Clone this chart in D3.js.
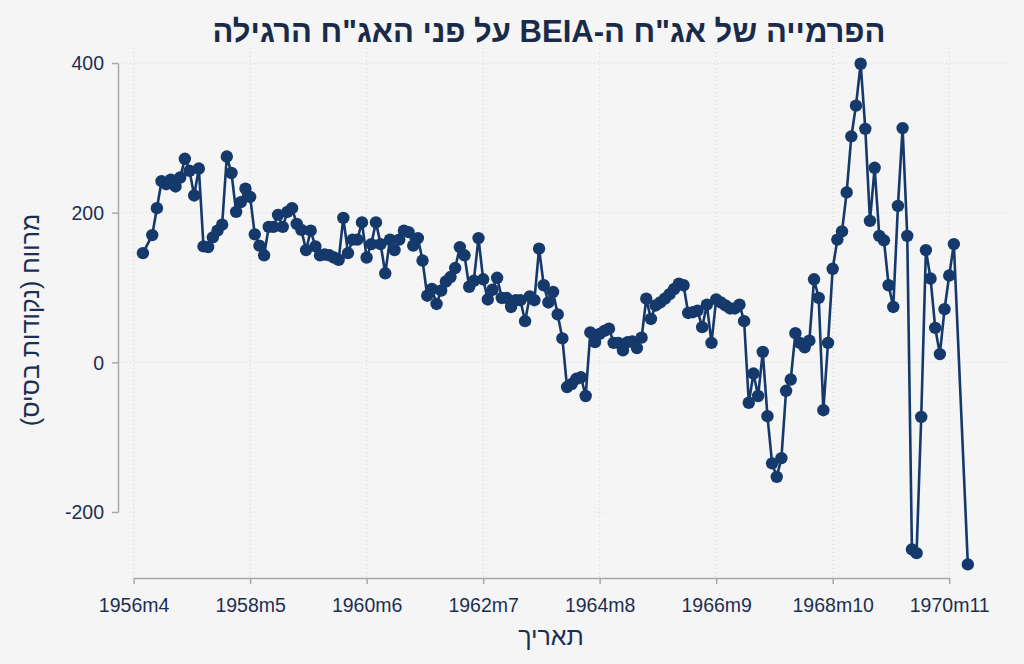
<!DOCTYPE html>
<html>
<head>
<meta charset="utf-8">
<script src="https://cdn.jsdelivr.net/npm/d3@7"></script>
<style>
  body { margin: 0; background: #f5f5f5; }
  svg { display: block; font-family: "Liberation Sans", Arial, sans-serif; }
  .grid-line { stroke: #d9d9d9; stroke-width: 1; stroke-dasharray: 1 3; }
  .axis-line { stroke: #a8a8a8; stroke-width: 1.5; }
  .tick-label { fill: #1c2e52; font-size: 19.5px; }
</style>
</head>
<body>
<div id="wrapper"></div>
<script>

// 1. Data

// first observation is 1956m6; null = missing month
const startYear = 1956
const startMonth = 6
const spreadValues = [
  146, null, 170, 206, 242, 238, 244, 235, 247, 272, 256, 223, 259,
  155, 154, 167, 176, 184, 275, 253, 201, 214, 232, 221, 171, 156, 143,
  181, 181, 197, 181, 201, 206, 185, 177, 150, 176, 155, 143, 144, 143,
  140, 137, 193, 146, 164, 164, 187, 140, 158, 187, 158, 119, 164, 150,
  164, 176, 174, 156, 166, 136, 89, 98, 78, 96, 108, 114, 126, 154,
  143, 101, 109, 166, 111, 84, 97, 113, 86, 86, 74, 83, 83, 55,
  88, 83, 152, 103, 80, 94, 64, 32, -33, -29, -22, -20, -45, 40,
  27, 38, 42, 45, 26, 26, 16, 27, 28, 19, 33, 85, 58, 76,
  80, 85, 91, 98, 105, 103, 66, 67, 69, 47, 77, 26, 84, 80,
  76, 72, 72, 77, 55, -54, -15, -45, 14, -72, -135, -153, -128, -38,
  -23, 39, 26, 20, 29, 111, 86, -64, 26, 125, 164, 175, 227, 302,
  343, 399, 312, 189, 260, 169, 163, 103, 74, 209, 313, 169, -250, -255,
  -73, 150, 112, 46, 11, 71, 116, 158, null, null, -270
]

const xTickLabels = ["1956m4", "1958m5", "1960m6", "1962m7", "1964m8", "1966m9", "1968m10", "1970m11"]
const yTicks = [-200, 0, 200, 400]

const titleText = "הפרמייה של אג\"ח ה-BEIA על פני האג\"ח הרגילה"
const yTitle = "מרווח (נקודות בסיס)"
const xTitle = "תאריך"

// month index from 1956m4
const parseMonth = s => {
  const [y, m] = s.split("m").map(Number)
  return (y - 1956) * 12 + (m - 4)
}
const dataset = spreadValues
  .map((v, i) => ({ t: (startYear - 1956) * 12 + (startMonth - 4) + i, value: v }))
  .filter(d => d.value !== null)

const xAccessor = d => d.t
const yAccessor = d => d.value

// 2. Dimensions

const dimensions = {
  width: 1024,
  height: 664,
}

// 3. Canvas

const wrapper = d3.select("#wrapper")
  .append("svg")
    .attr("width", dimensions.width)
    .attr("height", dimensions.height)

wrapper.append("rect")
  .attr("width", dimensions.width)
  .attr("height", dimensions.height)
  .attr("fill", "#f5f5f5")

// 4. Scales

const xScale = d3.scaleLinear()
  .domain([parseMonth(xTickLabels[0]), parseMonth(xTickLabels[xTickLabels.length - 1])])
  .range([133.6, 949.2])

const yScale = d3.scaleLinear()
  .domain([-200, 400])
  .range([512, 63])

// 5. Peripherals

const grid = wrapper.append("g")
yTicks.forEach(t => {
  grid.append("line")
    .attr("class", "grid-line")
    .attr("x1", 118).attr("x2", 1012)
    .attr("y1", yScale(t)).attr("y2", yScale(t))
})
xTickLabels.forEach(l => {
  grid.append("line")
    .attr("class", "grid-line")
    .attr("x1", xScale(parseMonth(l))).attr("x2", xScale(parseMonth(l)))
    .attr("y1", 44).attr("y2", 578)
})

const yAxisGenerator = d3.axisLeft(yScale)
  .tickValues(yTicks)
  .tickFormat(d => String(d))
  .tickSize(6)
  .tickSizeOuter(0)
  .tickPadding(8)
const yAxis = wrapper.append("g")
  .attr("transform", "translate(118,0)")
  .call(yAxisGenerator)
yAxis.select(".domain").attr("class", "axis-line").attr("fill", "none")
yAxis.selectAll(".tick line").attr("class", "axis-line")
yAxis.selectAll(".tick text").attr("class", "tick-label").attr("dy", "0.35em")

const xAxisGenerator = d3.axisBottom(xScale)
  .tickValues(xTickLabels.map(parseMonth))
  .tickFormat((d, i) => xTickLabels[i])
  .tickSize(6)
  .tickSizeOuter(0)
  .tickPadding(10)
const xAxis = wrapper.append("g")
  .attr("transform", "translate(0,578)")
  .call(xAxisGenerator)
xAxis.select(".domain").attr("class", "axis-line").attr("fill", "none")
xAxis.selectAll(".tick line").attr("class", "axis-line")
xAxis.selectAll(".tick text").attr("class", "tick-label").attr("dy", "0.9em")

wrapper.append("text")
  .attr("x", 549)
  .attr("y", 42)
  .attr("text-anchor", "middle")
  .attr("direction", "rtl")
  .attr("fill", "#1a2b4a")
  .style("font-size", "31px")
  .style("font-weight", "bold")
  .text(titleText)

wrapper.append("text")
  .attr("transform", "translate(39,320) rotate(-90)")
  .attr("text-anchor", "middle")
  .attr("direction", "rtl")
  .attr("fill", "#1c2e52")
  .style("font-size", "25px")
  .text(yTitle)

wrapper.append("text")
  .attr("x", 551)
  .attr("y", 645)
  .attr("text-anchor", "middle")
  .attr("direction", "rtl")
  .attr("fill", "#1c2e52")
  .style("font-size", "25px")
  .text(xTitle)

// 6. Data

const lineGenerator = d3.line()
  .x(d => xScale(xAccessor(d)))
  .y(d => yScale(yAccessor(d)))

wrapper.append("path")
  .attr("d", lineGenerator(dataset))
  .attr("fill", "none")
  .attr("stroke", "#15396a")
  .attr("stroke-width", 2.6)
  .attr("stroke-linejoin", "round")

wrapper.append("g")
  .selectAll("circle")
  .data(dataset)
  .join("circle")
    .attr("cx", d => xScale(xAccessor(d)))
    .attr("cy", d => yScale(yAccessor(d)))
    .attr("r", 6.2)
    .attr("fill", "#15396a")

</script>
</body>
</html>
